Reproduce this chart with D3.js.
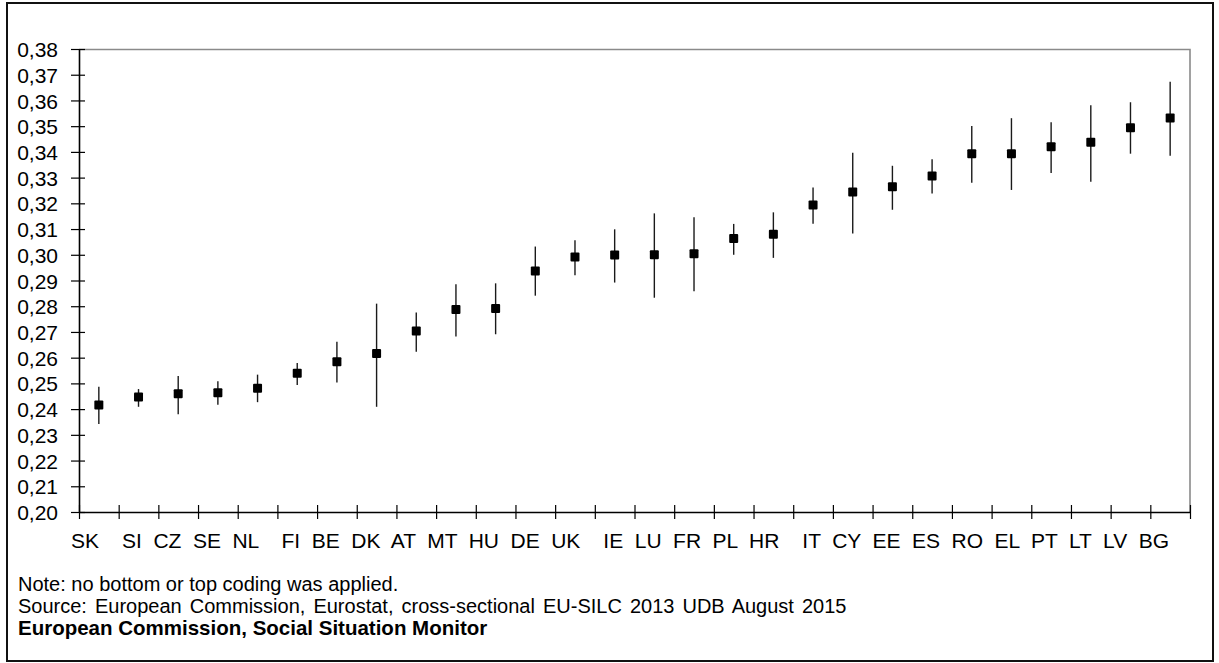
<!DOCTYPE html>
<html>
<head>
<meta charset="utf-8">
<script src="https://cdn.jsdelivr.net/npm/d3@7"></script>
<style>
  html, body { margin: 0; padding: 0; background: #fff; }
  svg { display: block; font-family: "Liberation Sans", Arial, sans-serif; }
</style>
</head>
<body>
<svg id="chart" width="1219" height="663"></svg>
<script>
// countries, sorted by the estimate
const countries = ["SK", "SI", "CZ", "SE", "NL", "FI", "BE", "DK", "AT", "MT", "HU", "DE", "UK", "IE",
  "LU", "FR", "PL", "HR", "IT", "CY", "EE", "ES", "RO", "EL", "PT", "LT", "LV", "BG"];
const estimate = [0.2416, 0.2447, 0.2460, 0.2464, 0.2481, 0.2539, 0.2584, 0.2616, 0.2704, 0.2787, 0.2791, 0.2937, 0.2991, 0.2999,
  0.3000, 0.3004, 0.3063, 0.3080, 0.3194, 0.3244, 0.3264, 0.3306, 0.3393, 0.3393, 0.3420, 0.3437, 0.3494, 0.3532];
const lowerBound = [0.2342, 0.2409, 0.2380, 0.2417, 0.2427, 0.2494, 0.2503, 0.2409, 0.2623, 0.2682, 0.2691, 0.2841, 0.2920, 0.2892,
  0.2833, 0.2858, 0.3000, 0.2988, 0.3121, 0.3083, 0.3175, 0.3238, 0.3280, 0.3252, 0.3318, 0.3284, 0.3393, 0.3385];
const upperBound = [0.2487, 0.2478, 0.2529, 0.2508, 0.2534, 0.2579, 0.2662, 0.2810, 0.2776, 0.2885, 0.2889, 0.3032, 0.3056, 0.3099,
  0.3161, 0.3146, 0.3120, 0.3165, 0.3262, 0.3397, 0.3346, 0.3371, 0.3501, 0.3531, 0.3515, 0.3581, 0.3593, 0.3673];
const yTicks = [0.20, 0.21, 0.22, 0.23, 0.24, 0.25, 0.26, 0.27, 0.28, 0.29, 0.30, 0.31, 0.32, 0.33, 0.34, 0.35, 0.36, 0.37, 0.38];
// the label line has a wider gap after these
const wideGapAfter = ["SK", "NL", "UK", "HR"];
const footnotes = [
  "Note: no bottom or top coding was applied.",
  "Source: European Commission, Eurostat, cross-sectional EU-SILC 2013 UDB August 2015",
];
const credit = "European Commission, Social Situation Monitor";

const W = 1219, H = 663;
const margin = { left: 79, right: 29, top: 49, bottom: 151 };
const plotW = W - margin.left - margin.right;
const plotH = H - margin.top - margin.bottom;

const svg = d3.select("#chart");

// outer frame
svg.append("rect")
  .attr("x", 7).attr("y", 3)
  .attr("width", 1206).attr("height", 658)
  .attr("fill", "none").attr("stroke", "#111").attr("stroke-width", 2);

const g = svg.append("g").attr("transform", `translate(${margin.left},${margin.top})`);

const x = d3.scaleBand().domain(countries).range([0, plotW]);
const y = d3.scaleLinear().domain([0.20, 0.38]).range([plotH, 0]);

// top and right edges of the plot area
g.append("path")
  .attr("d", `M0,0.5H${plotW}V${plotH}`)
  .attr("fill", "none").attr("stroke", "#8a8a8a").attr("stroke-width", 1.6);

// y axis with crossing ticks
const fmt = d3.format(".2f");
const yAxis = g.append("g").call(d3.axisLeft(y).tickValues(yTicks).tickSize(0).tickFormat(() => ""));
yAxis.select(".domain").attr("stroke", "#000").attr("stroke-width", 1.6);
yAxis.selectAll(".tick line").attr("x1", -8).attr("x2", 6).attr("stroke", "#000").attr("stroke-width", 1.2);
yAxis.selectAll(".tick text").remove();
yAxis.selectAll(".tick").append("text")
  .attr("x", -21).attr("dy", "0.36em")
  .attr("text-anchor", "end")
  .attr("fill", "#000")
  .style("font-size", "21px")
  .text((d) => fmt(d).replace(".", ","));

// x axis: ticks on the category boundaries
const boundaries = countries.map((c) => x(c)).concat([plotW]);
const xAxisScale = d3.scaleLinear().domain([0, plotW]).range([0, plotW]);
const xAxis = g.append("g").attr("transform", `translate(0,${plotH})`)
  .call(d3.axisBottom(xAxisScale).tickValues(boundaries).tickSize(0).tickFormat(() => ""));
xAxis.select(".domain").attr("stroke", "#000").attr("stroke-width", 1.6);
xAxis.selectAll(".tick line").attr("y1", -7).attr("y2", 7).attr("stroke", "#000").attr("stroke-width", 1.2);

// category labels, written as one line of text like the source chart
const labelLine = countries.map((c, i) =>
  i === countries.length - 1 ? c : c + (wideGapAfter.includes(c) ? "  " : " ")).join("");
const labelText = svg.append("text")
  .attr("x", 71).attr("y", 548)
  .attr("fill", "#000")
  .style("font-size", "21px")
  .style("white-space", "pre")
  .text(labelLine);
const spaces = (labelLine.match(/ /g) || []).length;
const natural = labelText.node().getComputedTextLength();
labelText.style("word-spacing", `${(1098 - natural) / spaces}px`);

// whiskers
g.selectAll(".whisker")
  .data(countries)
  .join("line")
  .attr("class", "whisker")
  .attr("x1", (d) => x(d) + x.bandwidth() / 2)
  .attr("x2", (d) => x(d) + x.bandwidth() / 2)
  .attr("y1", (d, i) => y(lowerBound[i]))
  .attr("y2", (d, i) => y(upperBound[i]))
  .attr("stroke", "#1a1a1a")
  .attr("stroke-width", 1.4);

// point estimates
const sq = 9;
g.selectAll(".point")
  .data(countries)
  .join("rect")
  .attr("class", "point")
  .attr("x", (d) => x(d) + x.bandwidth() / 2 - sq / 2)
  .attr("y", (d, i) => y(estimate[i]) - sq / 2)
  .attr("width", sq).attr("height", sq)
  .attr("rx", 1)
  .attr("fill", "#000");

// footer
svg.selectAll(".foot")
  .data(footnotes)
  .join("text")
  .attr("class", "foot")
  .attr("x", 18)
  .attr("y", (d, i) => 591 + i * 22)
  .attr("fill", "#000")
  .style("font-size", "20px")
  .style("word-spacing", (d, i) => (i === 1 ? "2.5px" : null))
  .text((d) => d);

svg.append("text")
  .attr("x", 18).attr("y", 635)
  .attr("fill", "#000")
  .style("font-size", "20.5px")
  .style("font-weight", "bold")
  .text(credit);
</script>
</body>
</html>
